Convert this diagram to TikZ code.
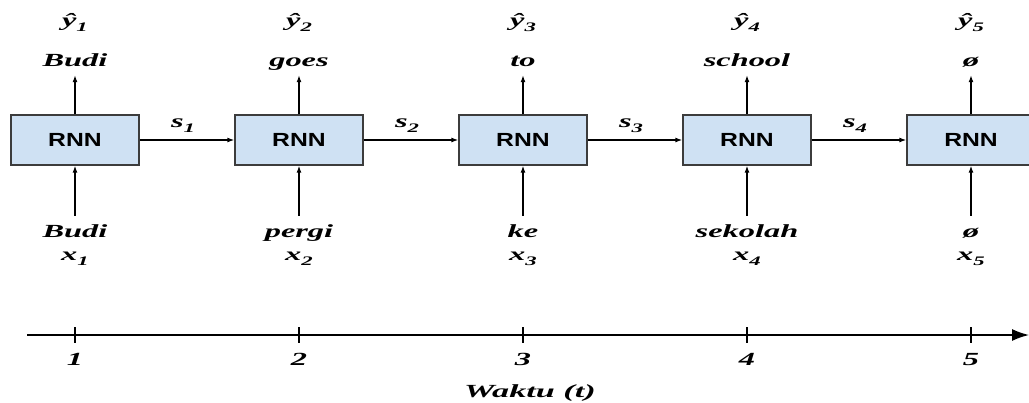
\documentclass[tikz,border=0pt]{standalone}
\usepackage{fontspec}
\setmainfont{Liberation Serif}
\newfontfamily\rnnfont{Liberation Sans}
\usetikzlibrary{arrows.meta}
\definecolor{boxfill}{RGB}{207,225,243}
\definecolor{boxline}{RGB}{60,60,60}
\newcommand{\wx}[1]{\scalebox{1.75}[1]{#1}}
\newcommand{\sbi}[1]{\raisebox{-0.3em}{\fontsize{13}{13}\selectfont #1}}
\tikzset{
  lbl/.style={font=\fontsize{18.5}{18.5}\selectfont\bfseries\itshape, inner sep=0pt, anchor=base},
  topword/.style={lbl, text depth=4pt, inner ysep=5pt},
  botword/.style={lbl, text height=13pt, inner ysep=8pt},
  rnnbox/.style={draw=boxline, fill=boxfill, line width=1.3pt, minimum width=128pt, minimum height=50pt, inner sep=0pt,
     font=\fontsize{19}{19}\selectfont\rnnfont\bfseries},
  arr/.style={line width=1.3pt, -{Latex[length=7pt,width=5pt]}},
  tick/.style={line width=2pt},
}
\begin{document}
\begin{tikzpicture}[x=1pt,y=-1pt]
\useasboundingbox (0,0) rectangle (1029,402);
% boxes
\foreach \i/\x in {1/75,2/299,3/523,4/747,5/971}{
  \node[rnnbox] (r\i) at (\x,140) {\scalebox{1.3}[1]{RNN}};
}
% top labels
\node[lbl] (y1) at (75,26) {\wx{ŷ\sbi{1}}};
\node[lbl] (y2) at (299,26) {\wx{ŷ\sbi{2}}};
\node[lbl] (y3) at (523,26) {\wx{ŷ\sbi{3}}};
\node[lbl] (y4) at (747,26) {\wx{ŷ\sbi{4}}};
\node[lbl] (y5) at (971,26) {\wx{ŷ\sbi{5}}};
\node[topword] (o1) at (75,66) {\wx{Budi}};
\node[topword] (o2) at (299,66) {\wx{goes}};
\node[topword] (o3) at (523,66) {\wx{to}};
\node[topword] (o4) at (747,66) {\wx{school}};
\node[topword] (o5) at (971,66) {\wx{ø}};
% bottom labels
\node[botword] (i1) at (75,237) {\wx{Budi}};
\node[botword] (i2) at (299,237) {\wx{pergi}};
\node[botword] (i3) at (523,237) {\wx{ke}};
\node[botword] (i4) at (747,237) {\wx{sekolah}};
\node[botword] (i5) at (971,237) {\wx{ø}};
\node[lbl] (x1) at (75,260) {\wx{x\sbi{1}}};
\node[lbl] (x2) at (299,260) {\wx{x\sbi{2}}};
\node[lbl] (x3) at (523,260) {\wx{x\sbi{3}}};
\node[lbl] (x4) at (747,260) {\wx{x\sbi{4}}};
\node[lbl] (x5) at (971,260) {\wx{x\sbi{5}}};
% vertical arrows
\foreach \i in {1,...,5}{
  \draw[arr] (r\i.north) -- (o\i.south);
  \draw[arr] (i\i.north) -- (r\i.south);
}
% state arrows
\foreach \i/\j in {1/2,2/3,3/4,4/5}{
  \draw[arr] (r\i.east) -- (r\j.west) node[midway, lbl, anchor=base, yshift=13pt, xshift=-4pt] (s\i) {\wx{s\sbi{\i}}};
}
% time axis
\coordinate (a0) at (27,335);
\coordinate (a1) at (1029,335);
\draw[line width=1.5pt, -{Latex[length=17pt,width=12pt]}] (a0) -- (a1);
\foreach \i/\x in {1/75,2/299,3/523,4/747,5/971}{
  \draw[tick] (\x,327) -- (\x,343);
  \node[lbl] (n\i) at (\x,365) {\wx{\i}};
}
\node[lbl] (w) at (530,397) {\scalebox{1.85}[1]{Waktu (t)}};
\end{tikzpicture}
\end{document}
